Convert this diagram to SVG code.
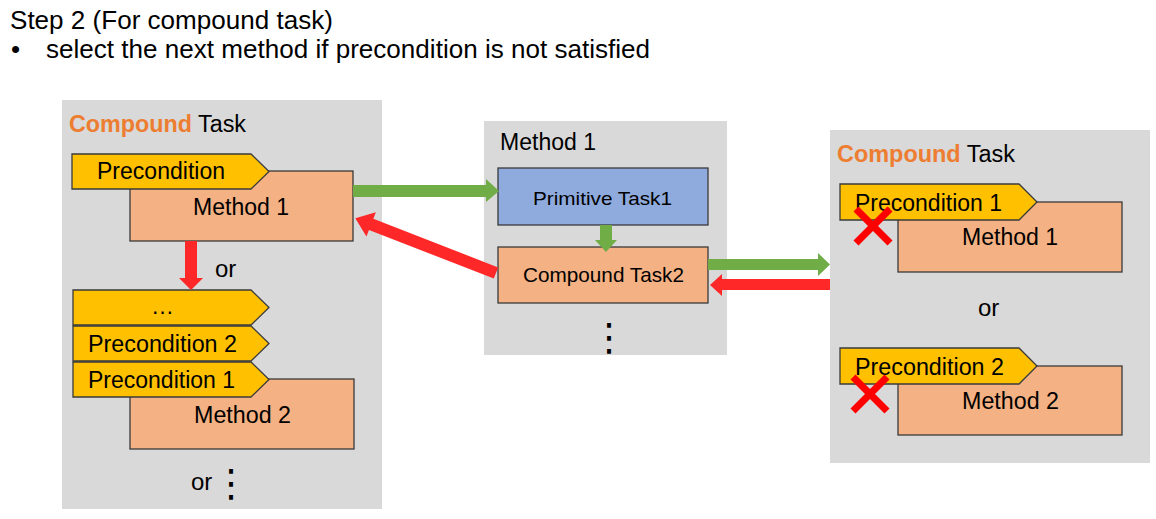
<svg xmlns="http://www.w3.org/2000/svg" width="1156" height="519" viewBox="0 0 1156 519">
<style>
text{font-family:"Liberation Sans",Arial,sans-serif;fill:#000}
.panel{fill:#d9d9d9}
.tag{fill:#ffc000;stroke:#3a3a3a;stroke-width:1.3}
.meth{fill:#f4b183;stroke:#3a3a3a;stroke-width:1.3}
.prim{fill:#8faadc;stroke:#3a3a3a;stroke-width:1.3}
.t23{font-size:23px}
.or{font-size:24px}
.co{fill:#ed7d31;font-weight:bold}
.green{fill:#70ad47}
.red{fill:#ff2828}
.x{stroke:#ff0000;stroke-width:7}
.dots{font-family:"DejaVu Sans",sans-serif;font-size:38px}
</style>
<rect width="1156" height="519" fill="#fff"/>
<g id="title">
<text x="10" y="29" font-size="26" textLength="323" lengthAdjust="spacingAndGlyphs">Step 2 (For compound task)</text>
<text x="11" y="58" font-size="26">•</text>
<text x="46" y="58" font-size="26" textLength="604" lengthAdjust="spacingAndGlyphs">select the next method if precondition is not satisfied</text>
</g>
<g id="left-panel">
<rect class="panel" x="62" y="100" width="320" height="409"/>
<text class="t23" x="69" y="132" textLength="177" lengthAdjust="spacingAndGlyphs"><tspan class="co">Compound</tspan> Task</text>
</g>
<g id="left-method1">
<rect class="meth" x="130" y="171" width="223" height="70"/>
<text class="t23" x="193" y="215" textLength="96" lengthAdjust="spacingAndGlyphs">Method 1</text>
</g>
<g id="left-precondition">
<polygon class="tag" points="72,154 251,154 269,171.5 251,189 72,189"/>
<text class="t23" x="97" y="179" textLength="128" lengthAdjust="spacingAndGlyphs">Precondition</text>
</g>
<g id="left-or1"><text class="or" x="215" y="277">or</text></g>
<g id="left-method2">
<rect class="meth" x="130" y="379" width="224" height="70"/>
<text class="t23" x="194" y="423" textLength="97" lengthAdjust="spacingAndGlyphs">Method 2</text>
</g>
<g id="left-ellipsis-tag">
<polygon class="tag" points="73,290 251,290 269,307.5 251,325 73,325"/>
<text class="t23" x="151" y="314">…</text>
</g>
<g id="left-precondition2">
<polygon class="tag" points="73,326 251,326 269,343.5 251,361 73,361"/>
<text class="t23" x="88" y="352" textLength="149" lengthAdjust="spacingAndGlyphs">Precondition 2</text>
</g>
<g id="left-precondition1">
<polygon class="tag" points="73,362 251,362 269,379.5 251,397 73,397"/>
<text class="t23" x="88" y="388" textLength="147" lengthAdjust="spacingAndGlyphs">Precondition 1</text>
</g>
<g id="left-or2">
<text class="or" x="191" y="490">or</text>
<text class="dots" x="212" y="496">⋮</text>
</g>
<g id="middle-panel">
<rect class="panel" x="484" y="121" width="243" height="234"/>
<text class="t23" x="500" y="150" textLength="96" lengthAdjust="spacingAndGlyphs">Method 1</text>
<text class="dots" x="590" y="350">⋮</text>
</g>
<g id="primitive-task1">
<rect class="prim" x="498" y="168" width="210" height="57"/>
<text x="533" y="205" font-size="19" textLength="139" lengthAdjust="spacingAndGlyphs">Primitive Task1</text>
</g>
<g id="compound-task2">
<rect class="meth" x="498" y="247" width="210" height="56"/>
<text x="523" y="282" font-size="21" textLength="161" lengthAdjust="spacingAndGlyphs">Compound Task2</text>
</g>
<g id="right-panel">
<rect class="panel" x="830" y="130" width="320" height="333"/>
<text class="t23" x="837" y="162" textLength="178" lengthAdjust="spacingAndGlyphs"><tspan class="co">Compound</tspan> Task</text>
<text class="or" x="978" y="316">or</text>
</g>
<g id="right-method1">
<rect class="meth" x="898" y="202" width="224" height="70"/>
<text class="t23" x="962" y="245" textLength="96" lengthAdjust="spacingAndGlyphs">Method 1</text>
</g>
<g id="right-precondition1">
<polygon class="tag" points="840,184 1019,184 1037,202 1019,220 840,220"/>
<text class="t23" x="855" y="211" textLength="147" lengthAdjust="spacingAndGlyphs">Precondition 1</text>
<line class="x" x1="856" y1="209" x2="890" y2="243"/>
<line class="x" x1="890" y1="209" x2="856" y2="243"/>
</g>
<g id="right-method2">
<rect class="meth" x="898" y="366" width="224" height="69"/>
<text class="t23" x="962" y="409" textLength="97" lengthAdjust="spacingAndGlyphs">Method 2</text>
</g>
<g id="right-precondition2">
<polygon class="tag" points="840,348 1019,348 1037,366 1019,384 840,384"/>
<text class="t23" x="855" y="375" textLength="149" lengthAdjust="spacingAndGlyphs">Precondition 2</text>
<line class="x" x1="853" y1="377" x2="887" y2="411"/>
<line class="x" x1="887" y1="377" x2="853" y2="411"/>
</g>
<g id="connectors">
<polygon class="green" points="353,185 486,185 486,179 499,191 486,202 486,197 353,197"/>
<polygon class="red" transform="translate(496,273) rotate(201.3)" points="0,-6 134,-6 134,-13 151,0 134,13 134,6 0,6"/>
<polygon class="red" points="185,241 197,241 197,278 203,278 191,290 179,278 185,278"/>
<polygon class="green" points="600,225 612,225 612,240 617,240 606,252 595,240 600,240"/>
<polygon class="green" points="708,259 818,259 818,253 830,264.5 818,276 818,270 708,270"/>
<polygon class="red" points="830,279 722,279 722,274 710,285 722,296 722,290 830,290"/>
</g>
</svg>
